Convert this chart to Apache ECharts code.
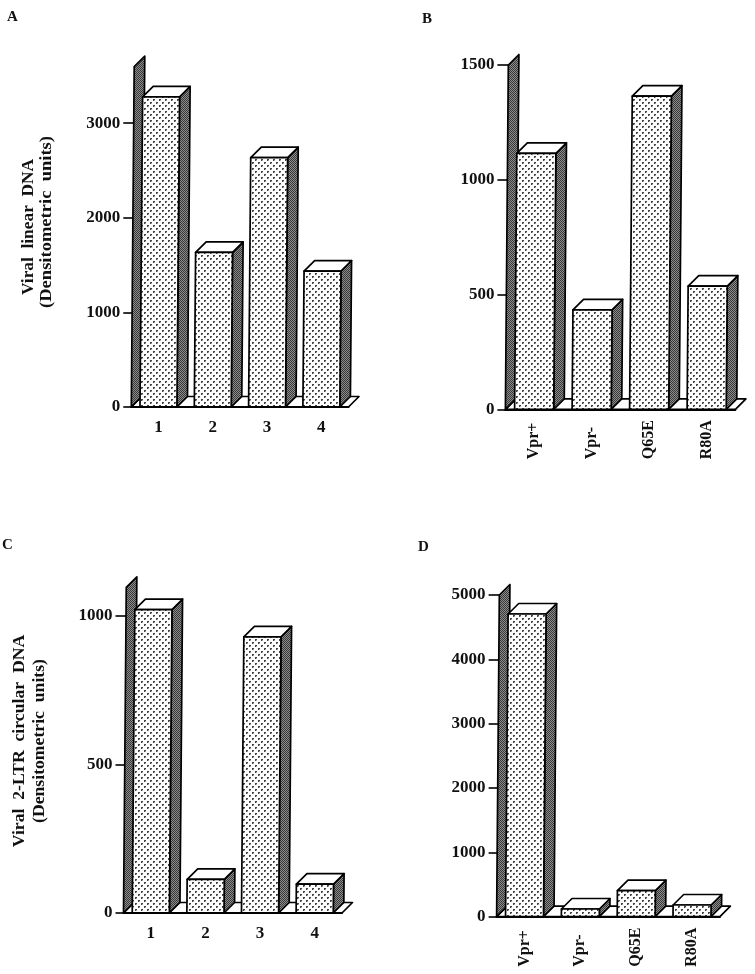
<!DOCTYPE html>
<html>
<head>
<meta charset="utf-8">
<style>html,body{margin:0;padding:0;background:#fff}#c{width:755px;height:974px}</style>
<script src="https://cdn.jsdelivr.net/npm/echarts@6/dist/echarts.min.js"></script>
</head>
<body>
<div id="c"></div>
<script>
// ---- data ----
const numberedCategories = ['1', '2', '3', '4'];
const mutantCategories = ['Vpr+', 'Vpr-', 'Q65E', 'R80A'];
const valuesA = [3277, 1635, 2635, 1437];
const valuesB = [1115, 433, 1364, 537];
const valuesC = [1022, 113, 930, 97];
const valuesD = [4705, 120, 404, 182];
const ticksA = [0, 1000, 2000, 3000];
const ticksB = [0, 500, 1000, 1500];
const ticksC = [0, 500, 1000];
const ticksD = [0, 1000, 2000, 3000, 4000, 5000];
const wallTopA = 3597, wallTopB = 1500, wallTopC = 1097, wallTopD = 5000;

// ---- layout and style ----
const panels = [
  {cats: numberedCategories, vals: valuesA, ticks: ticksA, max: wallTopA, left: 131.3, width: 217.2, top: 66.7, height: 340.3, rotated: false},
  {cats: mutantCategories, vals: valuesB, ticks: ticksB, max: wallTopB, left: 505.4, width: 230, top: 65, height: 344.3, rotated: true},
  {cats: numberedCategories, vals: valuesC, ticks: ticksC, max: wallTopC, left: 123.5, width: 218.5, top: 587.3, height: 325.7, rotated: false},
  {cats: mutantCategories, vals: valuesD, ticks: ticksD, max: wallTopD, left: 496.6, width: 223.3, top: 595, height: 321.7, rotated: true}
];
const SERIF = '"Liberation Serif","Times New Roman",serif';
const DX = 10.5, DY = 10.5, SHEAR = 0.0085, BAR_RATIO = 0.68;

function tile(w, h, paint) {
  const c = document.createElement('canvas');
  c.width = w; c.height = h;
  paint(c.getContext('2d'));
  return {image: c, repeat: 'repeat'};
}
const dotFill = tile(6, 6, g => {
  g.fillStyle = '#fdfdfd'; g.fillRect(0, 0, 6, 6);
  g.fillStyle = '#444'; g.fillRect(0, 0, 2, 2); g.fillRect(3, 3, 2, 2);
  g.fillStyle = '#aaa'; g.fillRect(1, 1, 1, 1); g.fillRect(4, 4, 1, 1);
});
const darkFill = tile(2, 2, g => {
  g.fillStyle = '#8c8c8c'; g.fillRect(0, 0, 2, 2);
  g.fillStyle = '#383838'; g.fillRect(0, 0, 1, 1); g.fillRect(1, 1, 1, 1);
});
const line = {stroke: '#000', lineWidth: 1.7, lineJoin: 'round'};
const poly = (points, fill) => ({type: 'polygon', shape: {points}, style: Object.assign({fill}, line)});

function skewed(api, pt, base) { return [pt[0] + (base - pt[1]) * SHEAR, pt[1]]; }

function renderFloor(params, api) {
  const band = api.size([1, 0])[0];
  const n = api.value(2);
  const o = api.coord([0, 0]);
  const x0 = o[0] - band / 2, x1 = x0 + band * n, y = o[1];
  return {type: 'group', children: [poly([[x0, y], [x1, y], [x1 + DX, y - DY], [x0 + DX, y - DY]], '#fff')]};
}
function renderWall(params, api) {
  const band = api.size([1, 0])[0];
  const o = api.coord([0, 0]);
  const x0 = o[0] - band / 2, y0 = o[1];
  const top = api.coord([0, api.value(1)])[1];
  const a = [x0, y0], b = [x0, top];
  const pts = [a, skewed(api, b, y0), skewed(api, [x0 + DX, top - DY], y0), [x0 + DX, y0 - DY]];
  return {type: 'group', children: [poly(pts, darkFill)]};
}
function renderBar(params, api) {
  const band = api.size([1, 0])[0];
  const w = band * BAR_RATIO;
  const base = api.coord([api.value(0), 0]);
  const top = api.coord([api.value(0), api.value(1)]);
  const y0 = base[1], y1 = top[1];
  const s = p => skewed(api, p, y0);
  const xl = base[0] - w / 2, xr = base[0] + w / 2;
  const front = [s([xl, y0]), s([xr, y0]), s([xr, y1]), s([xl, y1])];
  const side = [s([xr, y0]), s([xr + DX, y0 - DY]), s([xr + DX, y1 - DY]), s([xr, y1])];
  const cap = [s([xl, y1]), s([xr, y1]), s([xr + DX, y1 - DY]), s([xl + DX, y1 - DY])];
  return {type: 'group', children: [poly(side, darkFill), poly(cap, '#fff'), poly(front, dotFill)]};
}

const grid = [], xAxis = [], yAxis = [], series = [];
panels.forEach((p, i) => {
  grid.push({left: p.left, top: p.top, width: p.width, height: p.height, containLabel: false});
  xAxis.push({
    type: 'category', gridIndex: i, data: p.cats, z: 5,
    axisLine: {show: true, lineStyle: {color: '#000', width: 2}},
    axisTick: {show: false},
    axisLabel: p.rotated
      ? {rotate: 90, align: 'left', verticalAlign: 'middle', margin: 50, interval: 0, color: '#111', fontFamily: SERIF, fontWeight: 'bold', fontSize: 16}
      : {margin: 12, interval: 0, color: '#111', fontFamily: SERIF, fontWeight: 'bold', fontSize: 17}
  });
  yAxis.push({
    type: 'value', gridIndex: i, min: 0, max: p.max, offset: -3,
    splitLine: {show: false},
    axisLine: {show: false},
    axisTick: {show: true, length: 11, customValues: p.ticks, lineStyle: {color: '#000', width: 1.6}},
    axisLabel: {customValues: p.ticks, formatter: v => String(v), margin: 14, color: '#111', fontFamily: SERIF, fontWeight: 'bold', fontSize: 17}
  });
  const common = {type: 'custom', xAxisIndex: i, yAxisIndex: i, clip: false, silent: true, encode: {x: 0, y: 1}, animation: false};
  series.push(Object.assign({}, common, {renderItem: renderFloor, data: [[0, 0, p.cats.length]]}));
  series.push(Object.assign({}, common, {renderItem: renderWall, data: [[0, p.max]]}));
  series.push(Object.assign({}, common, {renderItem: renderBar, data: p.vals.map((v, k) => [k, v])}));
});

const letters = [['A', 7, 17], ['B', 422, 19], ['C', 2, 545], ['D', 418, 547]];
const yTitles = [
  ['Viral  linear  DNA', 29, 227, 1.02], ['(Densitometric  units)', 47, 222, 1.09],
  ['Viral  2-LTR  circular  DNA', 20, 741, 1.04], ['(Densitometric  units)', 40, 741, 1.04]
];
const graphic = [];
letters.forEach(l => graphic.push({type: 'text', x: l[1], y: l[2], silent: true,
  style: {text: l[0], fill: '#111', font: 'bold 15px ' + SERIF, textAlign: 'left', textVerticalAlign: 'middle'}}));
yTitles.forEach(t => graphic.push({type: 'text', x: t[1], y: t[2], rotation: Math.PI / 2, scaleX: t[3], silent: true,
  style: {text: t[0], fill: '#111', font: 'bold 17px ' + SERIF, textAlign: 'center', textVerticalAlign: 'middle'}}));

const chart = echarts.init(document.getElementById('c'), null, {renderer: 'canvas', width: 755, height: 974});
chart.setOption({animation: false, backgroundColor: '#fff', grid, xAxis, yAxis, series, graphic});
</script>
</body>
</html>
